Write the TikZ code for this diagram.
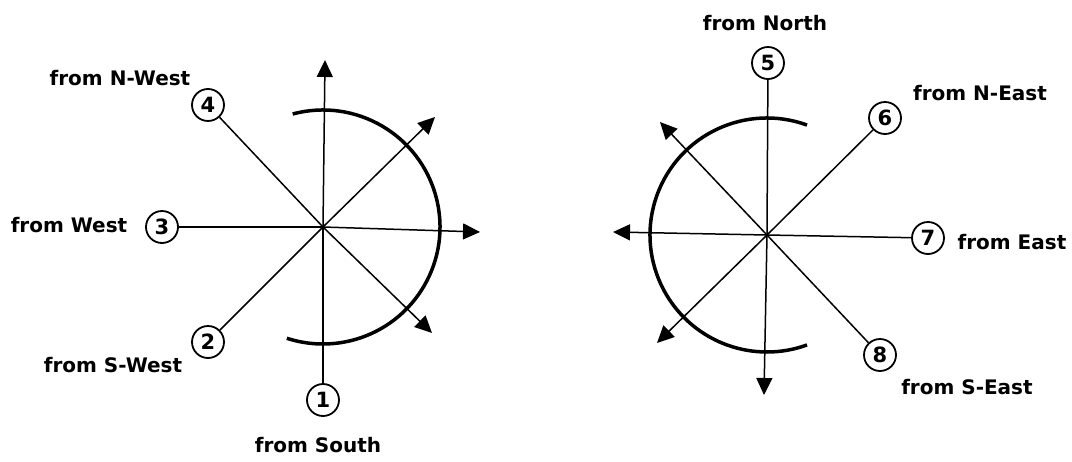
\documentclass[tikz,border=0pt]{standalone}
\usepackage{fontspec}
\setmainfont{DejaVu Sans}
\usetikzlibrary{arrows.meta}
\tikzset{
  num/.style={draw, circle, line width=1.8pt, minimum size=32pt, inner sep=0pt,
    font=\bfseries\fontsize{21}{21}\selectfont},
  lbl/.style={font=\bfseries\fontsize{20}{20}\selectfont},
  ray/.style={line width=1.5pt},
  rayarrow/.style={ray, -{Triangle[length=17pt,width=16pt]}},
  sweep/.style={line width=3.5pt},
}

\begin{document}
\begin{tikzpicture}[x=1pt,y=-1pt]
\useasboundingbox (0,0) rectangle (1072,461);
% left rose
\coordinate (L) at (323,227);
\node[num] (c1) at (323,400) {1};
\node[num] (c2) at (208,342) {2};
\node[num] (c3) at (162,227) {3};
\node[num] (c4) at (208,105) {4};
\coordinate (aN) at (325,60);
\coordinate (aNE) at (435,117);
\coordinate (aE) at (480,232);
\coordinate (aSE) at (432,333);
\draw[ray] (c1) -- (L);
\draw[ray] (c2) -- (L);
\draw[ray] (c3) -- (L);
\draw[ray] (c4) -- (L);
\draw[rayarrow] (L) -- (aN);
\draw[rayarrow] (L) -- (aNE);
\draw[rayarrow] (L) -- (aE);
\draw[rayarrow] (L) -- (aSE);
\draw[sweep] (L) ++(-105:117) arc[start angle=-105, end angle=108, radius=117];
\node[lbl] (t1) at (318,445) {from South};
\node[lbl] (t2) at (113,365) {from S-West};
\node[lbl] (t3) at (69,225) {from West};
\node[lbl] (t4) at (120,78) {from N-West};
% right rose
\coordinate (R) at (767,235);
\node[num] (c5) at (768,63) {5};
\node[num] (c6) at (885,118) {6};
\node[num] (c7) at (928,238) {7};
\node[num] (c8) at (880,355) {8};
\coordinate (aNW) at (660,122);
\coordinate (aW) at (613,232);
\coordinate (aSW) at (657,343);
\coordinate (aS) at (764,395);
\draw[ray] (c5) -- (R);
\draw[ray] (c6) -- (R);
\draw[ray] (c7) -- (R);
\draw[ray] (c8) -- (R);
\draw[rayarrow] (R) -- (aNW);
\draw[rayarrow] (R) -- (aW);
\draw[rayarrow] (R) -- (aSW);
\draw[rayarrow] (R) -- (aS);
\draw[sweep] (R) ++(-70:117) arc[start angle=-70, end angle=-290, radius=117];
\node[lbl] (t5) at (765,23) {from North};
\node[lbl] (t6) at (980,93) {from N-East};
\node[lbl] (t7) at (1012,242) {from East};
\node[lbl] (t8) at (967,387) {from S-East};
\end{tikzpicture}
\end{document}
